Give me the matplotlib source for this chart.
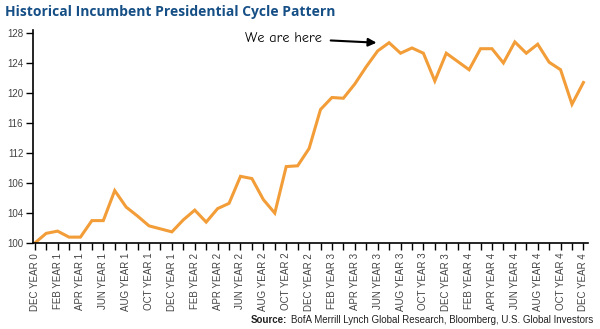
import matplotlib.pyplot as plt
from matplotlib.ticker import FixedLocator

# monthly index values, Dec of year 0 through Dec of year 4
values = [100.0, 101.3, 101.6, 100.8, 100.8, 103.0, 103.0, 107.0, 104.8, 103.6,
          102.3, 101.9, 101.5, 103.1, 104.4, 102.8, 104.6, 105.3, 108.9, 108.6,
          105.8, 104.0, 110.2, 110.3, 112.6, 117.8, 119.4, 119.3, 121.2, 123.5,
          125.6, 126.7, 125.3, 126.0, 125.3, 121.6, 125.3, 124.2, 123.1, 125.9,
          125.9, 124.0, 126.8, 125.3, 126.5, 124.1, 123.1, 118.5, 121.4]
months = list(range(len(values)))

month_labels = ["DEC YEAR 0"]
for yr in range(1, 5):
    for m in ["FEB", "APR", "JUN", "AUG", "OCT", "DEC"]:
        month_labels.append(f"{m} YEAR {yr}")

y_ticks = [100, 104, 108, 112, 116, 120, 124, 128]
y_labels = ["100", "104", "106", "112", "116", "120", "124", "128"]

orange = "#f29d38"
navy = "#154f86"
grey = "#444444"
narrow = ["Liberation Sans Narrow", "Liberation Sans", "DejaVu Sans"]

fig = plt.figure(figsize=(6, 3.29), dpi=100)
ax = fig.add_axes([0.055, 0.261, 0.925, 0.648])

ax.plot(months, values, color=orange, lw=2.2, solid_joinstyle="miter")

ax.set_xlim(-0.15, 48.4)
ax.set_ylim(100, 128.4)

ax.set_xticks(range(0, 49, 2))
ax.set_xticklabels(month_labels, rotation=90, fontsize=7, color=grey, family=narrow)
ax.xaxis.set_minor_locator(FixedLocator(range(1, 49, 2)))
ax.set_yticks(y_ticks)
ax.set_yticklabels(y_labels, fontsize=7, color=grey, family=narrow)
ax.tick_params(axis="both", which="both", direction="out", length=5, width=1, pad=2)

for s in ["top", "right"]:
    ax.spines[s].set_visible(False)
for s in ["left", "bottom"]:
    ax.spines[s].set_linewidth(1.2)

ax.annotate("We are here", xy=(29.9, 126.7), xytext=(21.8, 127.3),
            fontsize=10.3, color="black", va="center", ha="center",
            family=["Comic Neue", "DejaVu Sans"],
            arrowprops=dict(arrowstyle="-|>", color="black", lw=1.5,
                            mutation_scale=12, shrinkA=4, shrinkB=0))

fig.text(0.008, 0.965, "Historical Incumbent Presidential Cycle Pattern",
         fontsize=10, fontweight="bold", color=navy, va="center",
         family=["Open Sans", "DejaVu Sans"])

# source line: regular part right-aligned, bold prefix placed just left of it
src = fig.text(0.988, 0.027,
               "BofA Merrill Lynch Global Research, Bloomberg, U.S. Global Investors",
               fontsize=7, color="#222222", ha="right", va="center", family=narrow)
fig.canvas.draw()
bb = src.get_window_extent().transformed(fig.transFigure.inverted())
fig.text(bb.x0 - 0.005, 0.027, "Source:", fontsize=7, fontweight="bold",
         color="#222222", ha="right", va="center", family=narrow)

fig.savefig("out.png", dpi=100)
